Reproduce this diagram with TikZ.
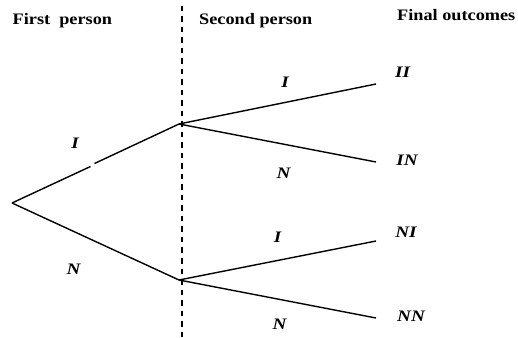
\documentclass[tikz,border=0pt]{standalone}
\usepackage{fontspec}
\setmainfont{Liberation Serif}
\begin{document}
\begin{tikzpicture}[x=1pt,y=1pt,
  hdr/.style={font=\fontsize{16}{16}\selectfont\bfseries, inner sep=0pt, xscale=1.14, anchor=base west},
  lbl/.style={font=\fontsize{16}{16}\selectfont\bfseries\itshape, inner sep=0pt, xscale=1.2},
  branch/.style={line width=1.4pt},
  divider/.style={line width=1.3pt, dash pattern=on 5.5pt off 5pt}]
\useasboundingbox (0,0) rectangle (518,337);
% nodes (y = 337 - pixel y)
\coordinate (root) at (12,134);
\coordinate (up) at (179,213);
\coordinate (low) at (179,57);
\coordinate (ii) at (376,253);
\coordinate (in) at (376,175);
\coordinate (ni) at (376,96);
\coordinate (nn) at (376,19);
\coordinate (gapA) at (90.5,170.5);
\coordinate (gapB) at (94.5,173.5);
\coordinate (dtop) at (182,331);
\coordinate (dbot) at (182,0);
% divider
\draw[divider] (dtop) -- (dbot);
% branches
\draw[branch] (root) -- (gapA);
\draw[branch] (gapB) -- (up);
\draw[branch] (root) -- (low);
\draw[branch] (up) -- (ii);
\draw[branch] (up) -- (in);
\draw[branch] (low) -- (ni);
\draw[branch] (low) -- (nn);
% headers
\node[hdr] (h1) at (12.5,312.5) {First\ \ person};
\node[hdr] (h2) at (199,312.5) {Second person};
\node[hdr] (h3) at (397,316) {Final outcomes};
% branch labels
\node[lbl] (l1) at (75,193.5) {I};
\node[lbl] (l2) at (73.5,68) {N};
\node[lbl] (l3) at (285,254.5) {I};
\node[lbl] (l4) at (283.5,164) {N};
\node[lbl] (l5) at (277.5,99.5) {I};
\node[lbl] (l6) at (279.5,12.5) {N};
% outcomes
\node[lbl] (o1) at (402.5,265) {II};
\node[lbl] (o2) at (407,176.5) {IN};
\node[lbl] (o3) at (406,105) {NI};
\node[lbl] (o4) at (411,21) {NN};
\end{tikzpicture}
\end{document}
